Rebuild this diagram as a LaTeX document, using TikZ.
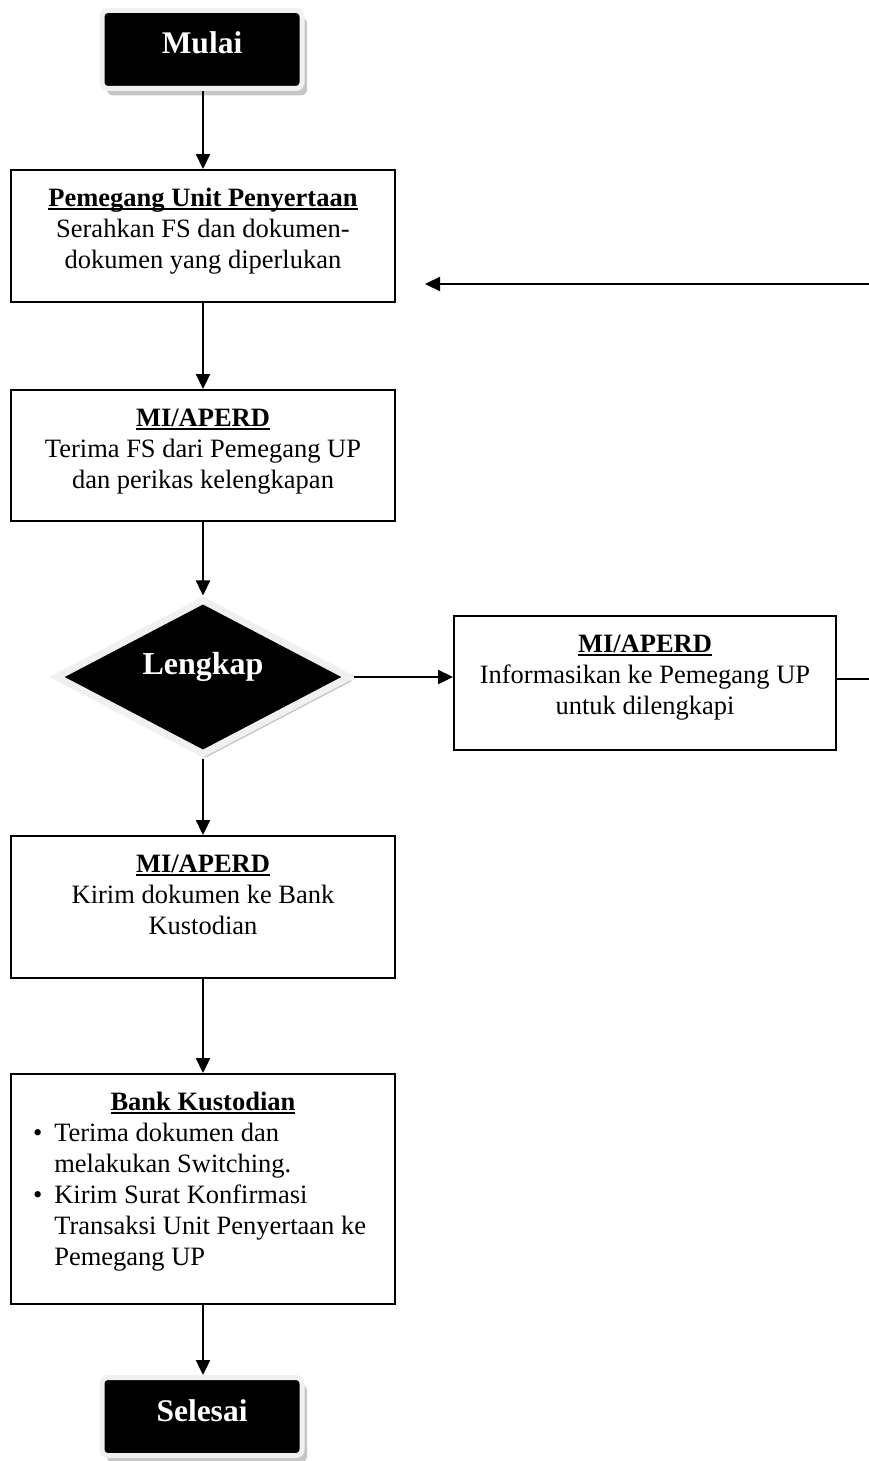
\documentclass[tikz,border=0pt]{standalone}
\usepackage{fontspec}
\setmainfont{Liberation Serif}
\usetikzlibrary{arrows.meta,shapes.geometric,shadows}
\newsavebox{\headbox}
\newcommand{\headline}[1]{\sbox{\headbox}{\textbf{#1}}\rlap{\rule[-4pt]{\wd\headbox}{1.8pt}}\usebox{\headbox}}
\newcommand{\boxbody}[2]{\parbox[c][#1][t]{370pt}{\centering\rule{0pt}{35pt}#2}}

\begin{document}
\begin{tikzpicture}[x=1pt,y=-1pt,
	>={Triangle[length=15pt,width=14pt]},
	font=\fontsize{26.5}{31}\selectfont,
	terminal/.style={rectangle, rounded corners=6pt, fill=black, draw=gray!12, line width=5pt,
		minimum width=200pt, minimum height=78pt, text=white, text height=18pt, text depth=9pt,
		font=\bfseries\fontsize{31.5}{36}\selectfont,
		drop shadow={shadow xshift=5pt, shadow yshift=-7pt, fill=gray!45, opacity=1}},
	decision/.style={diamond, fill=black, draw=gray!12, line width=7pt, inner sep=0pt,
		minimum width=295pt, minimum height=156pt, text=white, text height=12pt, text depth=18pt,
		font=\bfseries\fontsize{32}{36}\selectfont,
		drop shadow={shadow xshift=3pt, shadow yshift=-4pt, fill=gray!45, opacity=1}},
	stepbox/.style={draw, line width=2pt, inner sep=0pt, minimum width=384pt},
	flow/.style={->, line width=2.3pt}]
	\useasboundingbox (0,0) rectangle (869,1461);
	\node[terminal] (mulai) at (202,49.5) {Mulai};
	\node[stepbox, minimum height=132pt] (serah) at (203,236) {\boxbody{130pt}{\headline{Pemegang Unit Penyertaan}\\ Serahkan FS dan dokumen-\\ dokumen yang diperlukan}};
	\node[stepbox, minimum height=131pt] (terima) at (203,455.5) {\boxbody{129pt}{\headline{MI/APERD}\\ Terima FS dari Pemegang UP\\ dan perikas kelengkapan}};
	\node[decision] (lengkap) at (203,677) {Lengkap};
	\node[stepbox, minimum width=382pt, minimum height=134pt] (info) at (645,683) {\boxbody{132pt}{\headline{MI/APERD}\\ Informasikan ke Pemegang UP\\ untuk dilengkapi}};
	\node[stepbox, minimum height=142pt] (kirim) at (203,907) {\boxbody{140pt}{\headline{MI/APERD}\\ Kirim dokumen ke Bank\\ Kustodian}};
	\node[stepbox, minimum height=230pt] (bank) at (203,1189) {\parbox[c][228pt][t]{370pt}{\centering\rule{0pt}{35pt}\headline{Bank Kustodian}\par
		\raggedright
		\begin{tabular}[t]{@{\hspace{15pt}}l@{\hspace{12pt}}l@{}}
			\textbullet & Terima dokumen dan\\
			 & melakukan Switching.\\
			\textbullet & Kirim Surat Konfirmasi\\
			 & Transaksi Unit Penyertaan ke\\
			 & Pemegang UP
		\end{tabular}}};
	\node[terminal] (selesai) at (202,1416.5) {Selesai};
	\coordinate (back) at (425,284);
	%
	\draw [flow] (mulai.south -| serah.north) -- (serah);
	\draw [flow] (serah) -- (terima);
	\draw [flow] (terima) -- (lengkap);
	\draw [flow] (lengkap) -- (lengkap -| info.west);
	\draw [flow] ([yshift=4pt]info.east) -- ++(40,0) |- (back);
	\draw [flow] (lengkap) -- (kirim);
	\draw [flow] (kirim) -- (bank);
	\draw [flow] (bank) -- (bank.south |- selesai.north);
\end{tikzpicture}
\end{document}
